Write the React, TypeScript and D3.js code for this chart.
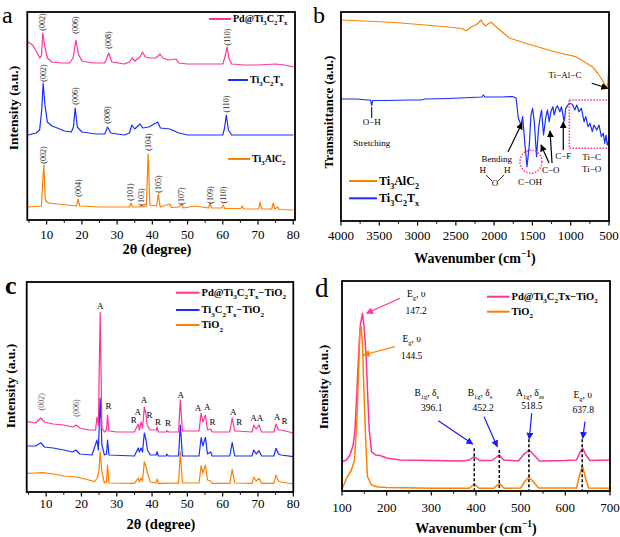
import React from "react";
import * as d3 from "d3";

const FONT = "'Liberation Serif','Times New Roman',serif";
const PINK = "#ff3399";
const BLUE = "#1a2eff";
const ORANGE = "#ff8000";

type Pt = [number, number];

// ---------- Panel a: XRD (2θ, intensity a.u.) ----------
const aPd: Pt[] = [[4.7,178],[6,175],[7,169],[8,162],[8.5,164],[8.9,187],[9.4,175],[10.2,162],[11.5,158],[14,157],[16.5,157],[17.5,162],[18.3,180],[19,166],[20,159],[23,157],[26.5,157],[27.6,167],[28.5,158],[32,156],[33.5,158],[34.3,162],[35,159],[36.5,163],[37.2,168],[38,163],[39.5,162],[41,162],[42.2,166],[43,162],[44.5,160],[46.7,161],[47.5,157],[50,156],[55,156],[60,156],[60.7,164],[61.2,173],[61.7,162],[62.5,156],[66,155],[70,155],[75,156],[77.5,155],[80,153]];
const aTi: Pt[] = [[4.7,85],[7,87],[8,90],[8.6,110],[9.0,137],[9.5,115],[10.2,98],[11.5,94],[13,92],[15,89],[17,88],[17.6,93],[18.1,112],[18.7,93],[20,88],[24,86],[26.5,86],[27.3,93],[28.2,87],[32,85],[33.5,87],[34.2,95],[35,91],[36.5,96],[37.3,92],[39,93],[41.5,98],[42.3,92],[45,91],[47.5,87],[50,85],[60,85],[60.5,92],[61,105],[61.6,90],[62.5,85],[70,85],[80,85]];
const aMax: Pt[] = [[4.7,13],[8.5,14],[9.0,45],[9.2,55],[9.6,20],[10.5,17],[13,16],[18.5,14],[18.9,21],[19.4,14],[25,13],[33.5,13],[33.9,17],[34.4,13],[36.5,13],[36.8,15],[37.1,13],[38.3,14],[38.8,66],[39.3,15],[41.2,14],[41.7,26],[42.2,13],[45,16],[45.4,12.5],[47.5,13],[48.4,16],[48.8,12],[52,14],[56,12],[56.4,17],[56.8,12],[59.7,12],[60.1,15],[60.6,11.5],[65.1,11.5],[65.5,14],[65.9,11],[70.2,11],[70.6,18],[71,11],[73.9,11],[74.3,17],[74.8,11],[75.6,13],[76,10.5],[80,10]];
const aPdLabels: [string, number, number][] = [["(002)",8.9,198],["(006)",18.3,195],["(008)",27.6,180],["(110)",61.2,183]];
const aTiLabels: [string, number, number][] = [["(002)",9.0,147],["(006)",18.1,124],["(008)",27.3,105],["(110)",61,116]];
const aMaxLabels: [string, number, number][] = [["(002)",9.2,65],["(004)",18.9,32],["(101)",33.9,28],["(103)",36.8,23],["(104)",38.8,78],["(105)",41.7,36],["(107)",48.4,24],["(109)",56.4,25],["(110)",60.1,25]];
const aTicks = [10,20,30,40,50,60,70,80];
const aMinor = [5,15,25,35,45,55,65,75];

// ---------- Panel b: FTIR ----------
const bMax: Pt[] = [[4000,201],[3700,200],[3300,198.5],[2900,196],[2600,194],[2420,192.5],[2365,190.3],[2300,194],[2220,197],[2170,201],[2140,197],[2115,195],[2080,197],[2040,198.7],[2000,196],[1953,192.7],[1880,188],[1800,183],[1600,178],[1368,172.7],[1150,168],[934,164.3],[820,159],[718,154.3],[650,148],[587,141],[550,136],[530,132.7],[515,138],[505,151],[500,152]];
const bTi: Pt[] = [[4000,122],[3800,122],[3650,121],[3615,121],[3600,115.5],[3585,120.5],[3400,120.5],[3100,121],[2950,121],[2900,122],[2600,122.5],[2300,123.5],[2160,124],[2140,126],[2120,124],[1900,124],[1760,124.5],[1714,123],[1684,102.7],[1649,96],[1628,104.3],[1597,76],[1571,54.3],[1541,76],[1519,106],[1498,112.7],[1476,99.3],[1446,64.3],[1420,92.7],[1398,104.3],[1381,111],[1355,86],[1324,104.3],[1303,111],[1281,99.3],[1259,109.3],[1233,114.3],[1216,106],[1194,112.7],[1173,115.3],[1142,109.3],[1121,114.3],[1086,99.3],[1064,112.7],[1021,117.7],[978,116.7],[947,111],[921,116],[891,109.3],[861,112.7],[826,99.3],[803,104.3],[774,94.3],[748,97.7],[718,89.3],[696,96],[660,91],[630,96],[600,84.3],[574,87.7],[556,77.7],[539,86],[522,76],[500,81]];
const bTicks = [4000,3500,3000,2500,2000,1500,1000,500];
const bMinor = [3750,3250,2750,2250,1750,1250,750];

// ---------- Panel c: XRD composites ----------
const cPd: Pt[] = [[4.7,70.3],[7,69],[8.5,74],[9.5,70],[12,68],[15,67],[17.5,65],[18.5,67],[19.5,64],[22,62],[24,62],[24.4,75],[24.8,67],[25.3,179.3],[25.8,64],[26.5,60],[27.1,62],[27.4,77],[27.8,61],[30,60],[35,60],[36.1,68],[36.4,62],[36.9,70],[37.3,64],[37.8,85],[38.3,77],[38.6,67],[39.5,62],[41.2,62],[41.4,65],[41.8,60],[44,60],[44.2,61.5],[44.6,60],[47.5,60],[48.0,92],[48.6,61],[53.3,61],[53.9,79],[54.4,70],[55.1,77],[55.7,62],[56.6,63],[57,60],[62,60],[62.7,74],[63.4,61],[64,61],[68.3,60],[68.8,67],[69.5,63],[70.3,67],[71,60],[74.5,60],[75.1,68],[75.8,62],[76.5,62],[80,59]];
const cTi: Pt[] = [[4.7,46],[7,46],[8.5,49.3],[9.5,45],[12,44],[15,42],[17.5,40],[18.5,42],[19.5,38],[23,37],[24.4,52],[24.8,42],[25.3,94],[25.8,47],[26.5,37],[27.1,38],[27.4,52],[27.8,37],[35,36],[36.1,44],[36.4,40],[36.9,44],[37.3,40],[37.8,59],[38.3,52],[38.7,42],[39.5,37],[41.2,37],[41.4,40.3],[41.8,36],[44,36],[44.2,38],[44.6,36],[47.5,36],[48.0,67],[48.6,36],[53.3,36],[53.9,54.3],[54.4,46],[55.1,54.7],[55.7,38],[56.6,40],[57,36],[62,36],[62.7,49.3],[63.4,36],[68.3,36],[68.8,42],[69.5,38],[70.3,41.3],[71,36],[74.5,36],[75.1,43.7],[75.8,38],[76.5,37],[80,35.3]];
const cTiO2: Pt[] = [[4.7,18.7],[7,19],[9,19.3],[12,18],[15,16],[18.5,15],[21,13],[23.7,10.3],[24.5,14],[25.0,22],[25.3,40.3],[25.8,20],[26.5,9],[27.1,10],[27.4,27],[27.8,9],[35,8.7],[36.1,14],[36.4,10],[36.9,14],[37.3,11],[37.8,30.3],[38.3,25],[38.7,19],[39.5,10],[41.2,9],[41.4,13],[41.8,8.7],[44,8.7],[44.2,9],[47.5,8.7],[48.0,40.3],[48.6,9],[53.3,9],[53.9,26.3],[54.4,19],[55.1,27],[55.7,12],[56.6,11],[57,8.7],[62,8.7],[62.7,22.7],[63.4,9],[68.3,8.7],[68.8,14.7],[69.5,11],[70.3,13.7],[71,8.7],[74.5,8.7],[75.1,17],[75.8,11],[76.5,10],[80,8]];
const cPhaseLabels: [string, number, number][] = [["A",25.3,186],["R",27.7,86],["R",34.8,72],["A",35.95,80.3],["A",37.7,92],["R",39.3,77],["R",41.7,70.3],["R",44.5,69.3],["A",48.1,97],["A",53.0,84.3],["A",55.6,85.3],["R",57.1,70.3],["A",63.0,80.3],["R",64.7,70.3],["A",68.7,73.7],["A",70.6,73.7],["A",75.4,75.3],["R",77.5,71.3]];
const cPlaneLabels: [string, number, number][] = [["(002)",8.6,90.3],["(006)",18.5,84]];

// ---------- Panel d: Raman ----------
const dPd: Pt[] = [[100,29.3],[110,31],[118,36],[125,46],[129,61],[133,96],[137,134.3],[141,166],[146,177.7],[150,161],[154,134.3],[158,91],[161,61],[166,39.3],[175,36],[185,35.5],[200,33],[230,31],[300,30.5],[370,30],[385,31],[396,34.3],[408,30.5],[435,30.5],[445,33.5],[452,36],[462,31],[495,30],[508,37],[519,41],[530,36],[542,30],[600,30.5],[625,31],[632,38],[639,42.7],[646,36],[655,30.5],[700,31]];
const dTiO2: Pt[] = [[100,2.7],[105,7],[110,12.7],[121,21],[128,31],[133,68],[137,116],[140,161],[143,164.3],[146,146],[149,101],[153,51],[157,14.3],[166,6],[180,4],[200,3.5],[300,2.7],[385,2.7],[396,7],[407,2.7],[440,2.7],[452,7.7],[463,2.7],[500,3],[510,10],[518,13.7],[527,10],[540,3],[625,3],[632,16],[638,25],[644,15],[652,3],[700,2.7]];
const dModes: [string, string, number, number][] = [["B_{1g}, δ_s","396.1",396.1,42.7],["B_{1g}, δ_s","452.2",452.2,41],["A_{1g}, δ_{as}","518.5",518.5,51.7],["E_g, υ","637.8",637.8,51.7]];
const dTicks = [100,200,300,400,500,600,700];
const dMinor = [150,250,350,450,550,650];

// ---------- helpers ----------
function parseRich(s: string) {
  const segs: { t: string; k: number }[] = [];
  let i = 0, buf = "";
  while (i < s.length) {
    const c = s[i];
    if ((c === "_" || c === "^") && i + 1 < s.length) {
      if (buf) { segs.push({ t: buf, k: 0 }); buf = ""; }
      let t = "";
      if (s[i + 1] === "{") { const j = s.indexOf("}", i + 2); t = s.slice(i + 2, j); i = j + 1; }
      else { t = s[i + 1]; i += 2; }
      segs.push({ t, k: c === "_" ? 1 : -1 });
    } else { buf += c; i++; }
  }
  if (buf) segs.push({ t: buf, k: 0 });
  return segs;
}

function Rich(props: { x: number; y: number; text: string; size: number; bold?: boolean; anchor?: string; fill?: string; rotate?: number; baseline?: string }) {
  const { x, y, text, size, bold, anchor = "start", fill = "#000", rotate, baseline } = props;
  const segs = parseRich(text);
  let off = 0;
  const kids = segs.map((sg, i) => {
    const target = sg.k === 1 ? size * 0.3 : sg.k === -1 ? -size * 0.42 : 0;
    const dy = target - off; off = target;
    return <tspan key={i} dy={dy} fontSize={sg.k ? size * 0.68 : size}>{sg.t}</tspan>;
  });
  return (
    <text x={x} y={y} fontFamily={FONT} fontSize={size} fontWeight={bold ? "bold" : "normal"} textAnchor={anchor as any} fill={fill}
      dominantBaseline={baseline as any} transform={rotate ? `rotate(${rotate},${x},${y})` : undefined}>{kids}</text>
  );
}

function Frame(props: { x: any; y: any; majors: number[]; minors: number[]; labelY: number; title: string; titleX: number; titleY: number; titleSize: number; yTitle: string; yTitleX: number; yTitleY: number; yTitleSize: number }) {
  const { x, y, majors, minors, labelY, title, titleX, titleY, titleSize, yTitle, yTitleX, yTitleY, yTitleSize } = props;
  const [x0, x1] = x.range();
  const [yb, yt] = y.range();
  const left = Math.min(x0, x1), right = Math.max(x0, x1);
  return (
    <g>
      <rect x={left} y={yt} width={right - left} height={yb - yt} fill="none" stroke="#000" strokeWidth={1.8} />
      {majors.map((t) => (
        <g key={"M" + t}>
          <line x1={x(t)} x2={x(t)} y1={yb} y2={yb + 4.5} stroke="#000" strokeWidth={1.2} />
          <text x={x(t)} y={labelY} fontFamily={FONT} fontSize={13} textAnchor="middle">{t}</text>
        </g>
      ))}
      {minors.map((t) => (
        <line key={"m" + t} x1={x(t)} x2={x(t)} y1={yb} y2={yb + 2.8} stroke="#000" strokeWidth={1} />
      ))}
      <Rich x={titleX} y={titleY} text={title} size={titleSize} bold anchor="middle" />
      <Rich x={yTitleX} y={yTitleY} text={yTitle} size={yTitleSize} bold anchor="middle" rotate={-90} baseline="central" />
    </g>
  );
}

function Curve({ data, x, y, color, w = 1.2 }: { data: Pt[]; x: any; y: any; color: string; w?: number }) {
  const gen = d3.line<Pt>().x((d) => x(d[0])).y((d) => y(d[1]));
  return <path d={gen(data) || ""} fill="none" stroke={color} strokeWidth={w} strokeLinejoin="round" />;
}

function Legend({ x1, x2, y, color, text, size }: { x1: number; x2: number; y: number; color: string; text: string; size: number }) {
  return (
    <g>
      <line x1={x1} x2={x2} y1={y} y2={y} stroke={color} strokeWidth={2} />
      <Rich x={x2 + 2} y={y + size * 0.33} text={text} size={size} bold />
    </g>
  );
}

function RotLabels({ items, x, y, color = "#222" }: { items: [string, number, number][]; x: any; y: any; color?: string }) {
  return (
    <g>
      {items.map(([t, px, py], i) => (
        <text key={i} x={x(px)} y={y(py)} fontFamily={FONT} fontSize={8} textAnchor="middle" dominantBaseline="central" fill={color}
          transform={`rotate(-90,${x(px)},${y(py)})`}>{t}</text>
      ))}
    </g>
  );
}

function Arrow({ x1, y1, x2, y2, color, id }: { x1: number; y1: number; x2: number; y2: number; color: string; id: string }) {
  return <line x1={x1} y1={y1} x2={x2} y2={y2} stroke={color} strokeWidth={1.2} markerEnd={`url(#${id})`} />;
}

export default function App() {
  const ax = d3.scaleLinear().domain([4.5, 80.5]).range([27.3, 295]);
  const ay = d3.scaleLinear().domain([0, 208]).range([220, 12]);
  const bx = d3.scaleLinear().domain([4000, 500]).range([341, 609]);
  const by = d3.scaleLinear().domain([0, 209]).range([221, 12]);
  const cx = d3.scaleLinear().domain([4.5, 80]).range([26.7, 293.3]);
  const cy = d3.scaleLinear().domain([0, 210]).range([492, 282]);
  const dx = d3.scaleLinear().domain([100, 700]).range([342, 610]);
  const dy = d3.scaleLinear().domain([0, 210]).range([491, 281]);

  const markers: [string, string][] = [["arK", "#000"], ["arB", "#1a1aff"], ["arP", PINK], ["arO", ORANGE]];

  return (
    <svg width={620} height={537} style={{ display: "block", position: "absolute", left: 0, top: 0 }} fontFamily={FONT}>
      <defs>
        {markers.map(([id, c]) => (
          <marker key={id} id={id} viewBox="0 0 10 10" refX={9} refY={5} markerWidth={7} markerHeight={7} markerUnits="userSpaceOnUse" orient="auto">
            <path d="M0,0 L10,5 L0,10 z" fill={c} />
          </marker>
        ))}
      </defs>
      <rect x={0} y={0} width={620} height={537} fill="#fff" />

      {/* ---------- Panel a ---------- */}
      <text x={2} y={22.5} fontFamily={FONT} fontSize={24}>a</text>
      <Curve data={aMax} x={ax} y={ay} color={ORANGE} />
      <Curve data={aTi} x={ax} y={ay} color={BLUE} />
      <Curve data={aPd} x={ax} y={ay} color={PINK} />
      <RotLabels items={aPdLabels} x={ax} y={ay} />
      <RotLabels items={aTiLabels} x={ax} y={ay} />
      <RotLabels items={aMaxLabels} x={ax} y={ay} />
      <Legend x1={209} x2={231} y={19} color={PINK} text="Pd@Ti_3C_2T_x" size={10} />
      <Legend x1={228} x2={248} y={80} color={BLUE} text="Ti_3C_2T_x" size={10} />
      <Legend x1={228} x2={250} y={159} color={ORANGE} text="Ti_3AlC_2" size={10} />
      <Frame x={ax} y={ay} majors={aTicks} minors={aMinor} labelY={238.5} title="2θ (degree)" titleX={157} titleY={253.5} titleSize={14.5}
        yTitle="Intensity (a.u.)" yTitleX={13} yTitleY={108} yTitleSize={13.5} />

      {/* ---------- Panel b ---------- */}
      <text x={313} y={22.5} fontFamily={FONT} fontSize={24}>b</text>
      <Curve data={bMax} x={bx} y={by} color={ORANGE} />
      <Curve data={bTi} x={bx} y={by} color={BLUE} />
      <Rich x={bx(1075)} y={by(143)} text="Ti−Al−C" size={9} anchor="middle" />
      <Arrow x1={bx(726)} y1={by(137.7)} x2={bx(517)} y2={by(132.7)} color="#000" id="arK" />
      <line x1={bx(3599)} x2={bx(3599)} y1={by(114)} y2={by(103)} stroke="#000" strokeWidth={1} />
      <Rich x={bx(3599)} y={by(96)} text="O−H" size={9} anchor="middle" />
      <Rich x={bx(3599)} y={by(75)} text="Stretching" size={9} anchor="middle" />
      <Rich x={bx(1967)} y={by(59)} text="Bending" size={9} anchor="middle" />
      <Rich x={bx(2150)} y={by(48)} text="H" size={9} anchor="middle" />
      <Rich x={bx(1828)} y={by(48)} text="H" size={9} anchor="middle" />
      <Rich x={bx(1989)} y={by(35)} text="O" size={9} anchor="middle" />
      <line x1={bx(2106)} y1={by(46)} x2={bx(2028)} y2={by(40)} stroke="#000" strokeWidth={0.8} />
      <line x1={bx(1871)} y1={by(46)} x2={bx(1950)} y2={by(40)} stroke="#000" strokeWidth={0.8} />
      <Arrow x1={bx(1819)} y1={by(69)} x2={bx(1636)} y2={by(98)} color="#000" id="arK" />
      <ellipse cx={bx(1519)} cy={by(59.3)} rx={11} ry={11.5} fill="none" stroke={PINK} strokeWidth={1.5} strokeDasharray="1.5,1.5" />
      <Rich x={bx(1532)} y={by(36)} text="C−OH" size={9} anchor="middle" />
      <Rich x={bx(1261)} y={by(48)} text="C−O" size={9} anchor="middle" />
      <Arrow x1={bx(1283)} y1={by(58)} x2={bx(1388)} y2={by(76)} color="#000" id="arK" />
      <Arrow x1={bx(1244)} y1={by(58)} x2={bx(1270)} y2={by(90)} color="#000" id="arK" />
      <Rich x={bx(1097)} y={by(62)} text="C−F" size={9} anchor="middle" />
      <Arrow x1={bx(1097)} y1={by(71)} x2={bx(1097)} y2={by(99)} color="#000" id="arK" />
      <rect x={bx(1018)} y={by(121)} width={bx(500) - bx(1018)} height={by(72.7) - by(121)} fill="none" stroke={PINK} strokeWidth={1.5} strokeDasharray="1.5,1.5" />
      <Rich x={bx(726)} y={by(61.5)} text="Ti−C" size={9} anchor="middle" />
      <Rich x={bx(726)} y={by(49)} text="Ti−O" size={9} anchor="middle" />
      <Legend x1={349} x2={377} y={181} color={ORANGE} text="Ti_3AlC_2" size={12} />
      <Legend x1={349} x2={377} y={198.3} color={BLUE} text="Ti_3C_2T_x" size={12} />
      <Frame x={bx} y={by} majors={bTicks} minors={bMinor} labelY={239.5} title="Wavenumber (cm^{−1})" titleX={475} titleY={262.5} titleSize={14}
        yTitle="Transmittance (a.u.)" yTitleX={328} yTitleY={112} yTitleSize={13} />

      {/* ---------- Panel c ---------- */}
      <text x={5} y={294} fontFamily={FONT} fontSize={26} fontWeight="bold">c</text>
      <Curve data={cTiO2} x={cx} y={cy} color={ORANGE} />
      <Curve data={cTi} x={cx} y={cy} color={BLUE} />
      <Curve data={cPd} x={cx} y={cy} color={PINK} />
      {cPhaseLabels.map(([t, px, py], i) => (
        <text key={i} x={cx(px)} y={cy(py)} fontFamily={FONT} fontSize={9} textAnchor="middle" dominantBaseline="central">{t}</text>
      ))}
      <RotLabels items={cPlaneLabels} x={cx} y={cy} color="#555" />
      <Legend x1={176} x2={199.5} y={292.7} color={PINK} text="Pd@Ti_3C_2T_x−TiO_2" size={10.5} />
      <Legend x1={176} x2={199.5} y={310} color={BLUE} text="Ti_3C_2T_x−TiO_2" size={10.5} />
      <Legend x1={176} x2={199.5} y={325} color={ORANGE} text="TiO_2" size={10.5} />
      <Frame x={cx} y={cy} majors={aTicks} minors={aMinor} labelY={508} title="2θ (degree)" titleX={161} titleY={528.5} titleSize={14.5}
        yTitle="Intensity (a.u.)" yTitleX={10} yTitleY={386} yTitleSize={13.5} />

      {/* ---------- Panel d ---------- */}
      <text x={315} y={297} fontFamily={FONT} fontSize={27}>d</text>
      <Curve data={dPd} x={dx} y={dy} color={PINK} w={1.5} />
      <Curve data={dTiO2} x={dx} y={dy} color={ORANGE} w={1.5} />
      {dModes.map(([, , w, top], i) => (
        <line key={i} x1={dx(w)} x2={dx(w)} y1={dy(top)} y2={dy(1)} stroke="#000" strokeWidth={1.5} strokeDasharray="3,2" />
      ))}
      <Rich x={dx(266)} y={dy(194)} text="E_g, υ" size={9.5} anchor="middle" />
      <Rich x={dx(266)} y={dy(177.5)} text="147.2" size={9.5} anchor="middle" />
      <Arrow x1={dx(230)} y1={dy(192.7)} x2={dx(155)} y2={dy(177.7)} color={PINK} id="arP" />
      <Rich x={dx(256)} y={dy(149)} text="E_g, υ" size={9.5} anchor="middle" />
      <Rich x={dx(256)} y={dy(132)} text="144.5" size={9.5} anchor="middle" />
      <Arrow x1={dx(218.6)} y1={dy(144.3)} x2={dx(147.7)} y2={dy(136)} color={ORANGE} id="arO" />
      <Rich x={dx(289.6)} y={dy(95)} text={dModes[0][0]} size={9.5} anchor="middle" />
      <Rich x={dx(300.8)} y={dy(80)} text={dModes[0][1]} size={9.5} anchor="middle" />
      <Rich x={dx(409)} y={dy(95)} text={dModes[1][0]} size={9.5} anchor="middle" />
      <Rich x={dx(416)} y={dy(80)} text={dModes[1][1]} size={9.5} anchor="middle" />
      <Rich x={dx(521)} y={dy(95)} text={dModes[2][0]} size={9.5} anchor="middle" />
      <Rich x={dx(525)} y={dy(82.5)} text={dModes[2][1]} size={9.5} anchor="middle" />
      <Rich x={dx(639)} y={dy(93)} text={dModes[3][0]} size={9.5} anchor="middle" />
      <Rich x={dx(640)} y={dy(78)} text={dModes[3][1]} size={9.5} anchor="middle" />
      <Arrow x1={dx(315.6)} y1={dy(70.3)} x2={dx(392.6)} y2={dy(47)} color="#1a1aff" id="arB" />
      <Arrow x1={dx(418)} y1={dy(74.3)} x2={dx(447.7)} y2={dy(44.3)} color="#1a1aff" id="arB" />
      <Arrow x1={dx(524.7)} y1={dy(77.7)} x2={dx(519.3)} y2={dy(52)} color="#1a1aff" id="arB" />
      <Arrow x1={dx(644)} y1={dy(69.3)} x2={dx(638.8)} y2={dy(52.7)} color="#1a1aff" id="arB" />
      <Legend x1={487} x2={509.5} y={296.7} color={PINK} text="Pd@Ti_3C_2Tx−TiO_2" size={10.5} />
      <Legend x1={487} x2={509.5} y={311.7} color={ORANGE} text="TiO_2" size={10.5} />
      <Frame x={dx} y={dy} majors={dTicks} minors={dMinor} labelY={511.5} title="Wavenumber (cm^{−1})" titleX={476} titleY={533} titleSize={14}
        yTitle="Intensity (a.u.)" yTitleX={323} yTitleY={387} yTitleSize={13.5} />
    </svg>
  );
}
